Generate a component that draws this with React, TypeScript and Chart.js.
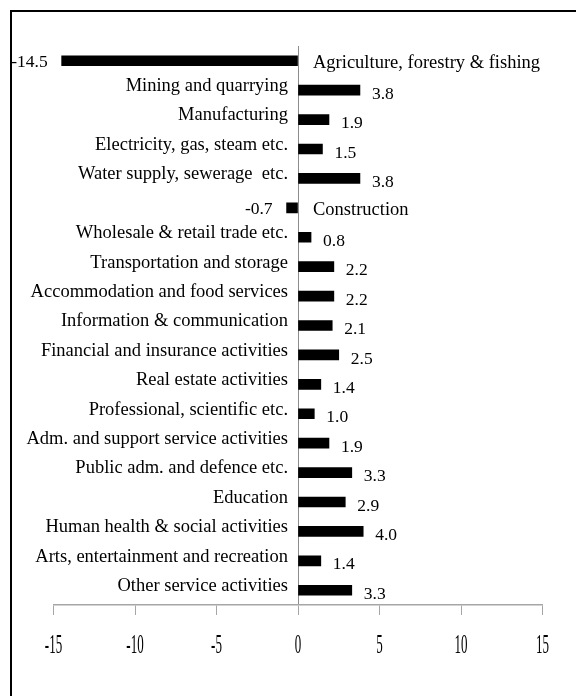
import React, { useEffect, useRef } from "react";
import { Chart, registerables } from "chart.js";

Chart.register(...registerables);

const categories: string[] = [
  "Agriculture, forestry & fishing",
  "Mining and quarrying",
  "Manufacturing",
  "Electricity, gas, steam etc.",
  "Water supply, sewerage  etc.",
  "Construction",
  "Wholesale & retail trade etc.",
  "Transportation and storage",
  "Accommodation and food services",
  "Information & communication",
  "Financial and insurance activities",
  "Real estate activities",
  "Professional, scientific etc.",
  "Adm. and support service activities",
  "Public adm. and defence etc.",
  "Education",
  "Human health & social activities",
  "Arts, entertainment and recreation",
  "Other service activities",
];

const values: number[] = [
  -14.5, 3.8, 1.9, 1.5, 3.8, -0.7, 0.8, 2.2, 2.2, 2.1, 2.5, 1.4, 1.0, 1.9, 3.3,
  2.9, 4.0, 1.4, 3.3,
];

const xMin = -15;
const xMax = 15;
const xStep = 5;

const SERIF = "'Liberation Serif', 'Times New Roman', serif";
const TICK_CONDENSE = 0.48;

const barLabelPlugin = {
  id: "barLabels",
  afterLayout(chart: any) {
    // condense the x-axis tick glyphs horizontally (narrow serif look)
    const s = chart.scales.x;
    if (s && !s._condensed) {
      const orig = s.drawLabels.bind(s);
      s.drawLabels = (area: any) => {
        const ctx = s.ctx as CanvasRenderingContext2D;
        const origFill = ctx.fillText;
        (ctx as any).fillText = function (t: string, x: number, y: number, ...rest: any[]) {
          this.save();
          this.scale(TICK_CONDENSE, 1);
          origFill.call(this, t, x / TICK_CONDENSE, y, ...rest);
          this.restore();
        };
        try {
          orig(area);
        } finally {
          (ctx as any).fillText = origFill;
        }
      };
      s._condensed = true;
    }
  },
  afterDatasetsDraw(chart: any) {
    const ctx = chart.ctx as CanvasRenderingContext2D;
    const meta = chart.getDatasetMeta(0);
    const zero = chart.scales.x.getPixelForValue(0);
    ctx.save();
    ctx.fillStyle = "#000";
    ctx.textBaseline = "middle";
    meta.data.forEach((bar: any, i: number) => {
      const v = values[i];
      const { x, y } = bar.getProps(["x", "y"], true);
      ctx.font = `18.5px ${SERIF}`;
      if (v >= 0) {
        ctx.textAlign = "right";
        ctx.fillText(categories[i], zero - 10, y - 4);
      } else {
        ctx.textAlign = "left";
        ctx.fillText(categories[i], zero + 15, y + 2);
      }
      ctx.font = `17.5px ${SERIF}`;
      const txt = v.toFixed(1);
      if (v >= 0) {
        ctx.textAlign = "left";
        ctx.fillText(txt, x + 12, y + 4);
      } else {
        ctx.textAlign = "right";
        ctx.fillText(txt, x - 14, y + 2);
      }
    });
    ctx.restore();
  },
};

export default function App() {
  const ref = useRef<HTMLCanvasElement | null>(null);
  useEffect(() => {
    if (!ref.current) return;
    const chart = new Chart(ref.current, {
      type: "bar",
      data: {
        labels: categories,
        datasets: [
          {
            data: values,
            backgroundColor: "#000",
            borderWidth: 0,
            barThickness: 10,
          },
        ],
      },
      options: {
        indexAxis: "y",
        animation: false,
        responsive: false,
        maintainAspectRatio: false,
        layout: { padding: { left: 41.5, right: 33.5, top: 34, bottom: 20 } },
        plugins: {
          legend: { display: false },
          tooltip: { enabled: false },
        },
        scales: {
          y: {
            type: "category",
            display: false,
            offset: true,
          },
          x: {
            type: "linear",
            min: xMin,
            max: xMax,
            ticks: {
              stepSize: xStep,
              padding: 14.3,
              color: "#000",
              font: { family: SERIF, size: 27 },
            },
            grid: {
              drawOnChartArea: true,
              drawTicks: true,
              tickLength: 10,
              tickColor: "#a6a6a6",
              color: (c: any) =>
                c.tick && c.tick.value === 0 ? "#8c8c8c" : "rgba(0,0,0,0)",
              lineWidth: 1,
            },
            border: { display: true, color: "#a6a6a6", width: 1.5 },
          },
        },
      },
      plugins: [barLabelPlugin],
    });
    return () => chart.destroy();
  }, []);

  return (
    <div
      style={{
        position: "fixed",
        left: 10,
        top: 10,
        right: 0,
        bottom: 0,
        borderTop: "2px solid #000",
        borderLeft: "2px solid #000",
        boxSizing: "border-box",
        background: "#fff",
      }}
    >
      <canvas ref={ref} width={564} height={684} style={{ display: "block" }} />
    </div>
  );
}
